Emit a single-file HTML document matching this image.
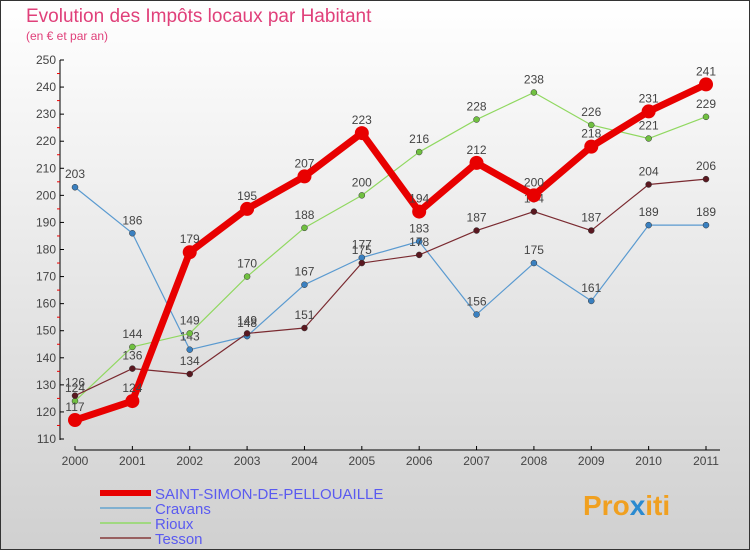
<!DOCTYPE html>
<html><head><meta charset="utf-8"><style>
body{margin:0}
#c{width:750px;height:550px;position:relative;overflow:hidden;font-family:"Liberation Sans",sans-serif}
</style></head><body>
<div id="c">
<svg id="s" width="750" height="550" xmlns="http://www.w3.org/2000/svg">
<defs><linearGradient id="bg" x1="0" y1="0" x2="0" y2="1"><stop offset="0" stop-color="#ffffff"/><stop offset="1" stop-color="#d0d0d0"/></linearGradient></defs>
<rect x="0.5" y="0.5" width="749" height="549" fill="url(#bg)" stroke="#333"/>
<text x="26" y="22" font-size="19" fill="#e0407a">Evolution des Impôts locaux par Habitant</text>
<text x="26" y="40" font-size="12" fill="#e0407a">(en € et par an)</text>
<g id="axes"></g><g id="series"></g><g id="legend"></g>
<text x="583" y="515" font-size="28" font-weight="bold" fill="#f0a020">Pro<tspan fill="#2a8ad0">x</tspan>iti</text>
</svg></div>
<script>
const years=["2000","2001","2002","2003","2004","2005","2006","2007","2008","2009","2010","2011"];
const yTicks=[110,120,130,140,150,160,170,180,190,200,210,220,230,240,250];
const saint=[117,124,179,195,207,223,194,212,200,218,231,241];
const cravans=[203,186,143,148,167,177,183,156,175,161,189,189];
const rioux=[124,144,149,170,188,200,216,228,238,226,221,229];
const tesson=[126,136,134,149,151,175,178,187,194,187,204,206];
const NS="http://www.w3.org/2000/svg";
const X=i=>75+i*(706-75)/11;
const Y=v=>439-(v-110)*(439-60)/140;
function mk(t,a,p){const e=document.createElementNS(NS,t);for(const k in a)e.setAttribute(k,a[k]);p.appendChild(e);return e;}
const ax=document.getElementById('axes');
let l=mk('line',{x1:60,y1:60,x2:60,y2:440,stroke:'#000'},ax);


yTicks.forEach((v,i)=>{
 mk('line',{x1:60,y1:Y(v),x2:64,y2:Y(v),stroke:'#000'},ax);
 if(i<yTicks.length-1)mk('line',{x1:57,y1:Y(v+5),x2:60,y2:Y(v+5),stroke:'#e00'},ax);
 const t=mk('text',{x:56,y:Y(v)+4,'text-anchor':'end','font-size':12,fill:'#444'},ax);t.textContent=v;
 
 
});
l=mk('line',{x1:75,y1:450,x2:720,y2:450,stroke:'#000'},ax);


years.forEach((y,i)=>{
 mk('line',{x1:X(i),y1:446,x2:X(i),y2:450,stroke:'#000'},ax);
 const t=mk('text',{x:X(i),y:465,'text-anchor':'middle','font-size':12,fill:'#444'},ax);t.textContent=y;
 
 
});
const sg=document.getElementById('series');
const defs=[[cravans,'#5a9ad0','#3a80c0',1.2,3,'cravans'],[rioux,'#90d860','#70c040',1.2,3,'rioux'],[tesson,'#7a2a30','#5a1820',1.2,3,'tesson'],[saint,'#e80000','#e80000',7,7,'saint-simon']];
defs.forEach(([d,c,pc,w,r,n])=>{
 const g=mk('g',{},sg);
 
 
 mk('polyline',{points:d.map((v,i)=>X(i)+','+Y(v)).join(' '),fill:'none',stroke:c,'stroke-width':w,'stroke-linejoin':'round'},g);
 d.forEach((v,i)=>{
  const p=mk('circle',{cx:X(i),cy:Y(v),r:r,fill:pc,stroke:'#333','stroke-width':n==='saint-simon'?0:0.5},g);
  
  
  const t=mk('text',{x:X(i),y:Y(v)-9,'text-anchor':'middle','font-size':12,fill:'#444'},g);t.textContent=v;
  
  
 });
});
const lg=document.getElementById('legend');
[['SAINT-SIMON-DE-PELLOUAILLE','#e80000',6,493],['Cravans','#80b0d0',2,508],['Rioux','#a0d880',2,523],['Tesson','#986060',2,538]].forEach(([n,c,w,y])=>{
 const g=mk('g',{},lg);
 
 
 mk('line',{x1:100,y1:y,x2:151,y2:y,stroke:c,'stroke-width':w},g);
 const t=mk('text',{x:155,y:y+6,'font-size':15,fill:'#5a5af0'},g);t.textContent=n;
});
</script>
</body></html>
